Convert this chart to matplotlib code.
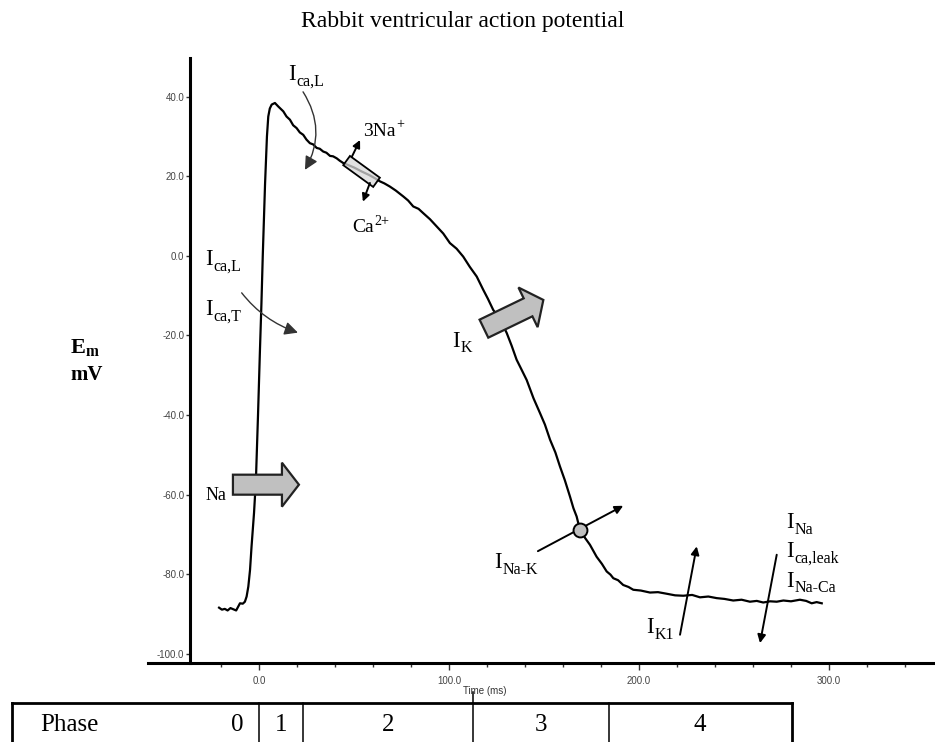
# Rabbit ventricular action potential with the main ionic currents

import matplotlib
matplotlib.use('Agg')
import matplotlib.pyplot as plt
from matplotlib import patches, transforms

plt.rcParams['mathtext.fontset'] = 'custom'
plt.rcParams['mathtext.rm'] = 'Liberation Serif'
plt.rcParams['mathtext.bf'] = 'Liberation Serif:bold'
plt.rcParams['axes.unicode_minus'] = False

# trace (time in ms, membrane potential in mV)
time_ms = [-21, -19.5, -18, -16.5, -15, -13.5, -12, -11, -10, -8.5, -7.4, -6.5, -5.6, -4.7,
           -3.9, -2.6, -1.6, -0.5, 0.5, 1.3, 2.0, 3.2, 4.2, 4.9, 5.7, 6.7, 8.4,
           10.2, 12.8, 14.5, 16.3, 18, 19.8, 21.5, 23.3, 25, 26.8, 28.5, 30.4, 32, 33.8,
           35.5, 37.4, 39, 40.9, 42.5, 44.4, 47, 50, 54, 58, 61, 63.7, 66, 68.9, 72, 76,
           78.5, 81.2, 84, 86.5, 90, 93.5, 97, 100.5, 104, 107.5, 111, 114.6, 118, 120.5,
           123.3, 127, 130.4, 133, 135.6, 138, 140.9, 144.5, 147.9, 150.5, 153.2, 156,
           158.4, 161, 163.7, 165.5, 167.2, 168.9, 171.5, 174.2, 177.7, 180.5, 183, 185,
           186.5, 189, 191.7, 194.5, 197, 201, 205.8, 210, 214.6, 219, 223.3, 228, 232.1,
           236.5, 240.9, 245, 249.6, 254, 258.4, 262, 265.4, 269, 272.5, 276, 280, 284.7,
           288, 290.9, 293.5, 296.2]
em_mv = [-88.4, -88.9, -88.7, -89.1, -88.5, -88.8, -89.1, -88.2, -87.3, -87.4, -86.9, -85.6,
         -83.1, -78.9, -73.0, -64.6, -56.3, -40, -24, -12, 0, 18, 30, 35, 37, 38, 38.4,
         37.5, 36.3, 35.0, 34.2, 32.8, 32.1, 31.0, 30.4, 29.2, 28.3, 28.0, 27.1, 26.9, 26.2,
         25.9, 25.1, 25.0, 24.5, 23.9, 23.3, 22.8, 22.2, 21.2, 20.3, 19.5, 18.7, 18.2, 17.4,
         16.4, 14.9, 13.9, 12.4, 11.8, 10.7, 9.2, 7.4, 5.6, 3.2, 1.8, -0.2, -2.8, -5.2, -8.5,
         -10.8, -13.6, -16.0, -19.4, -22.6, -26.1, -28.4, -31.2, -35.8, -39.5, -42.4, -46.2,
         -49.4, -52.9, -56.4, -60.5, -63.4, -65.5, -68.8, -70.8, -72.6, -75.6, -77.4, -79.3,
         -80.1, -81.0, -81.5, -82.7, -83.2, -83.9, -84.1, -84.6, -84.5, -84.9, -85.3, -85.4,
         -85.2, -85.8, -85.6, -86.0, -86.2, -86.6, -86.4, -86.9, -86.7, -87.1, -86.8, -86.9,
         -86.6, -86.8, -86.4, -86.7, -87.3, -87.0, -87.3]

x_major = [0, 100, 200, 300]
x_minor = list(range(-20, 360, 20))
y_major = [-100, -80, -60, -40, -20, 0, 20, 40]

phase_names = ['0', '1', '2', '3', '4']
phase_bounds = [0, 23, 112.5, 184, 280.4]   # ms, edges of the phase cells

serif = 'Liberation Serif'

fig = plt.figure(figsize=(9.35, 7.42), dpi=100)
ax = fig.add_axes([148 / 935, 79 / 742, 787 / 935, 605 / 742])
ax.set_xlim(-58.4, 355.8)
ax.set_ylim(-102.3, 49.7)

for s in ['top', 'right']:
    ax.spines[s].set_visible(False)
ax.spines['left'].set_position(('data', -36.3))
ax.spines['left'].set_linewidth(2.2)
ax.spines['bottom'].set_linewidth(2.2)

ax.set_xticks(x_major)
ax.set_xticklabels(['%.1f' % x for x in x_major])
ax.set_xticks([x for x in x_minor if x not in x_major], minor=True)
ax.set_yticks(y_major)
ax.set_yticklabels(['%.1f' % y for y in y_major])
ax.tick_params(axis='x', which='major', length=5, width=1, pad=4, labelsize=7,
               labelcolor='#444444', color='#333333')
ax.tick_params(axis='x', which='minor', length=3, width=1, color='#333333')
ax.tick_params(axis='y', length=3, width=1, pad=1, labelsize=7,
               labelcolor='#444444', color='#333333')
for lab in ax.get_xticklabels() + ax.get_yticklabels():
    lab.set_family('Liberation Sans')

ax.set_xlabel('Time (ms)', fontsize=7, color='#333333', family='Liberation Sans')
ax.xaxis.set_label_coords(0.428, -0.046)
ax.xaxis.label.set_va('center')

# the action potential
ax.plot(time_ms, em_mv, color='black', lw=1.6, zorder=3, clip_on=False)

fig.text(463 / 935, 1 - 22 / 742, 'Rabbit ventricular action potential',
         ha='center', va='center', fontsize=17, family=serif)
fig.text(70 / 935, 1 - 347 / 742, r'$\mathbf{E_m}$', ha='left', va='center', fontsize=16)
fig.text(70 / 935, 1 - 375 / 742, 'mV', ha='left', va='center', fontsize=15,
         family=serif, weight='bold')


def px_trans(t, v, angle=0):
    # pixel offsets, rotated, anchored at a data point
    return (transforms.Affine2D().rotate_deg(angle)
            + transforms.ScaledTranslation(t, v, ax.transData))


def block_arrow(t, v, angle):
    L, hl, bw, hw = 66, 17, 10, 22
    pts = [(0, -bw), (L - hl, -bw), (L - hl, -hw), (L, 0), (L - hl, hw), (L - hl, bw), (0, bw)]
    ax.add_patch(patches.Polygon(pts, closed=True, transform=px_trans(t, v, angle),
                                 fc='#c0c0c0', ec='#222222', lw=1.6, zorder=5, clip_on=False))


def arrow(t0, v0, t1, v1, rad=0.0, color='black', lw=1.4, scale=14):
    ax.annotate('', xy=(t1, v1), xytext=(t0, v0), annotation_clip=False,
                arrowprops=dict(arrowstyle='-|>', color=color, lw=lw, mutation_scale=scale,
                                shrinkA=0, shrinkB=0,
                                connectionstyle='arc3,rad=%s' % rad), zorder=6)


def current(t, v, sub, size=16.5):
    ax.text(t, v, 'I', fontsize=size, family=serif, ha='left', va='baseline', zorder=7)
    ax.annotate(sub, (t, v), xytext=(size * 0.36, -size * 0.24), textcoords='offset points',
                fontsize=size * 0.7, family=serif, ha='left', va='baseline',
                annotation_clip=False, zorder=7)


def ion(t, v, name, charge, size=14, base_w=0.0):
    # ion name with its charge raised after it
    ax.text(t, v, name, fontsize=size, family=serif, ha='left', va='baseline')
    ax.annotate(charge, (t, v), xytext=(base_w * size, size * 0.38),
                textcoords='offset points', fontsize=size * 0.72, family=serif,
                ha='left', va='baseline', annotation_clip=False)


# Na inward block arrow and K outward block arrow
block_arrow(-13.7, -57.5, 0)
ax.text(-27.9, -61.3, 'Na', fontsize=13, family=serif, ha='left', va='baseline')
block_arrow(118.4, -18.3, 25.8)
current(101.9, -22.8, 'K')

# L-type Ca during the plateau
current(15.3, 44.2, 'ca,L')
arrow(23.2, 41.2, 24.2, 21.6, rad=-0.3, color='#333333', lw=1.0, scale=20)

# Ca currents during the upstroke
current(-28.4, -2.3, 'ca,L')
current(-28.4, -14.8, 'ca,T')
arrow(-9.1, -9.3, 20.5, -19.3, rad=0.15, color='#333333', lw=1.0, scale=20)

# Na/Ca exchanger box on the plateau
ax.add_patch(patches.Rectangle((-18.5, -5.7), 37, 11.4, transform=px_trans(54, 21.2, -36),
                               fc=(0.85, 0.85, 0.85, 0.75), ec='black', lw=1.3, zorder=5,
                               clip_on=False))
arrow(48.9, 24.9, 53.2, 29.1, scale=11)
arrow(58.4, 18.3, 54.7, 13.6, scale=11)
ion(54.9, 30.2, '3Na', '+', base_w=1.72)
ion(49.1, 5.9, 'Ca', '2+', base_w=1.12)

# Na/K pump
arrow(146.8, -74.2, 191.7, -62.8, scale=12)
ax.plot([168.9], [-68.8], 'o', ms=10, mfc='#c0c0c0', mec='black', mew=1.4, zorder=6)
current(123.8, -78.5, 'Na-K')

# inward rectifier
arrow(221.6, -95.2, 230.4, -73.0, scale=12)
current(204, -94.8, 'K1')

# background currents
arrow(272.5, -75.1, 263.7, -97.3, scale=12)
current(277.4, -68.4, 'Na')
current(277.4, -75.6, 'ca,leak')
current(277.4, -83.2, 'Na-Ca')

# phase table under the axis
tab = transforms.blended_transform_factory(ax.transData, fig.transFigure)
top = 1 - 703.3 / 742
left_t, right_t = -130.2, phase_bounds[-1]
ax.plot([left_t, right_t], [top, top], color='black', lw=2, transform=tab, clip_on=False)
ax.plot([left_t, left_t], [top, -0.05], color='black', lw=2, transform=tab, clip_on=False)
ax.plot([right_t, right_t], [top, -0.05], color='black', lw=2, transform=tab, clip_on=False)
for b in phase_bounds[:-1]:
    ax.plot([b, b], [top, -0.05], color='black', lw=1.1, transform=tab, clip_on=False)
ax.plot([phase_bounds[2]] * 2, [top, 1 - 692 / 742], color='black', lw=1.1,
        transform=tab, clip_on=False)

row_y = 1 - 725 / 742
ax.text(-115.3, row_y, 'Phase', fontsize=18, family=serif, ha='left', va='center',
        transform=tab)
ax.text(phase_bounds[0] - 8, row_y, phase_names[0], fontsize=18, family=serif,
        ha='right', va='center', transform=tab)
for i in range(1, len(phase_names)):
    mid = (phase_bounds[i - 1] + phase_bounds[i]) / 2
    ax.text(mid, row_y, phase_names[i], fontsize=18, family=serif, ha='center',
            va='center', transform=tab)

fig.savefig('out.png', dpi=100)
